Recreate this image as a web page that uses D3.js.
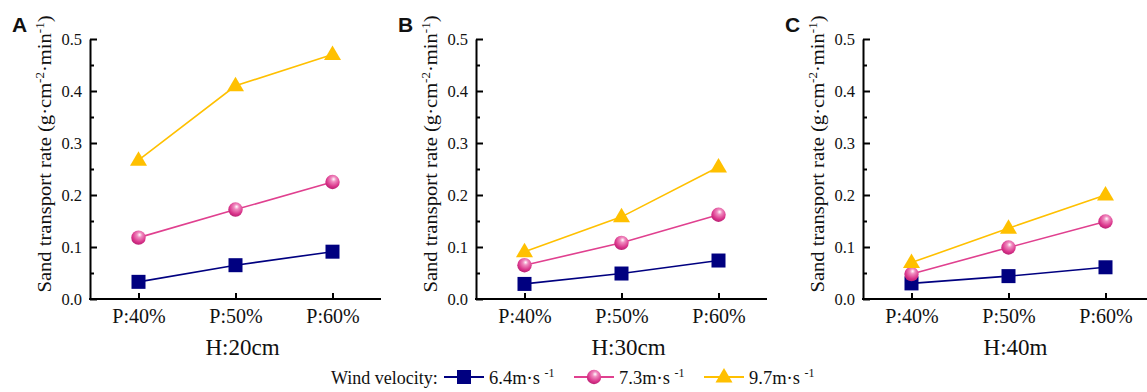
<!DOCTYPE html>
<html>
<head>
<meta charset="utf-8">
<script src="https://cdn.jsdelivr.net/npm/d3@7"></script>
<style>
  body { margin: 0; background: #fff; }
  svg { display: block; }
  text { font-family: "Liberation Serif", "Times New Roman", serif; fill: #111; }
</style>
</head>
<body>
<svg id="chart" width="1147" height="392"></svg>
<script>
// categories and panel labels
const categories = ["P:40%", "P:50%", "P:60%"];
const panelLetters = ["A", "B", "C"];
const panelTitles = ["H:20cm", "H:30cm", "H:40m"];
const yTicks = [0, 0.1, 0.2, 0.3, 0.4, 0.5];
const yMinorTicks = [0.05, 0.15, 0.25, 0.35, 0.45];

// series values per panel (A, B, C)
const wind64 = [[0.033, 0.065, 0.091], [0.029, 0.049, 0.074], [0.030, 0.044, 0.061]];
const wind73 = [[0.118, 0.172, 0.225], [0.065, 0.108, 0.162], [0.048, 0.099, 0.149]];
const wind97 = [[0.267, 0.410, 0.470], [0.091, 0.158, 0.254], [0.070, 0.136, 0.200]];

const seriesNames = ["6.4m·s", "7.3m·s", "9.7m·s"];

const conf = {
	panelX: [90, 476, 863],
	top: 39,
	width: 291,
	height: 260,
	colors: ["#000080", "#e0408f", "#ffc000"],
	shapes: ["square", "circle", "triangle"]
};

const serif = "'Liberation Serif', 'Times New Roman', serif";
const svg = d3.select("#chart");

const defs = svg.append("defs");
const grad = defs.append("radialGradient")
	.attr("id", "ballGrad")
	.attr("cx", "0.55").attr("cy", "0.35").attr("r", "0.7")
	.attr("fx", "0.58").attr("fy", "0.3");
grad.append("stop").attr("offset", "0").attr("stop-color", "#ffffff");
grad.append("stop").attr("offset", "0.25").attr("stop-color", "#f08cc0");
grad.append("stop").attr("offset", "0.7").attr("stop-color", "#d9338a");
grad.append("stop").attr("offset", "1").attr("stop-color", "#b01c6c");

const y = d3.scaleLinear().domain([0, 0.5]).range([conf.height, 0]);
const x = d3.scalePoint().domain(categories).range([0, conf.width]).padding(0.5);

function drawMarker(g, shape, color, cx, cy) {
	if (shape === "square") {
		g.append("rect")
			.attr("x", cx - 7).attr("y", cy - 7)
			.attr("width", 14).attr("height", 14)
			.attr("fill", color);
	} else if (shape === "circle") {
		g.append("circle")
			.attr("cx", cx).attr("cy", cy).attr("r", 7.2)
			.attr("fill", "url(#ballGrad)");
	} else {
		g.append("path")
			.attr("d", `M${cx},${cy - 9}L${cx + 8.5},${cy + 5.5}L${cx - 8.5},${cy + 5.5}Z`)
			.attr("fill", color);
	}
}

const allSeries = [wind64, wind73, wind97];

conf.panelX.forEach((px, p) => {
	const g = svg.append("g").attr("transform", `translate(${px},${conf.top})`);

	// minor y ticks
	g.append("g")
		.call(d3.axisLeft(y).tickValues(yMinorTicks).tickSize(-4).tickFormat(""))
		.call(s => s.select(".domain").remove())
		.selectAll("line").attr("stroke", "#000").attr("stroke-width", 2);

	// major y axis
	const ya = g.append("g")
		.call(d3.axisLeft(y).tickValues(yTicks).tickSize(-7).tickSizeOuter(0).tickPadding(8)
			.tickFormat(d3.format(".1f")))
		.attr("font-family", serif);
	ya.select(".domain").attr("stroke", "#000").attr("stroke-width", 2);
	ya.selectAll("line").attr("stroke", "#000").attr("stroke-width", 2);
	ya.selectAll("text")
		.style("font-family", serif).style("font-size", "16.5px").attr("fill", "#111");

	// x axis
	const xa = g.append("g").attr("transform", `translate(0,${conf.height})`)
		.call(d3.axisBottom(x).tickSize(-6).tickSizeOuter(0).tickPadding(10))
		.attr("font-family", serif);
	xa.select(".domain").attr("stroke", "#000").attr("stroke-width", 2)
		.attr("d", `M-1,0H${conf.width}`);
	xa.selectAll("line").attr("stroke", "#000").attr("stroke-width", 2);
	xa.selectAll("text")
		.style("font-family", serif).style("font-size", "20px").attr("fill", "#111");

	// x title
	g.append("text")
		.attr("x", conf.width / 2 + 7)
		.attr("y", 316)
		.attr("text-anchor", "middle")
		.style("font-size", "23px")
		.text(panelTitles[p]);

	// y title
	const yt = g.append("text")
		.attr("transform", `translate(-39,${conf.height / 2 - 15}) rotate(-90)`)
		.attr("text-anchor", "middle")
		.attr("textLength", 277)
		.attr("lengthAdjust", "spacingAndGlyphs")
		.style("font-size", "19px");
	yt.append("tspan").text("Sand transport rate (g·cm");
	yt.append("tspan").attr("dy", -7).style("font-size", "12px").text("-2");
	yt.append("tspan").attr("dy", 7).text("·min");
	yt.append("tspan").attr("dy", -7).style("font-size", "12px").text("-1");
	yt.append("tspan").attr("dy", 7).text(")");

	// panel letter
	svg.append("text")
		.attr("x", px - 78)
		.attr("y", 32)
		.style("font-family", "Liberation Sans, Arial, sans-serif")
		.style("font-weight", "bold")
		.style("font-size", "21px")
		.attr("fill", "#000")
		.text(panelLetters[p]);

	// series
	allSeries.forEach((series, si) => {
		const vals = series[p];
		const line = d3.line()
			.x((d, i) => x(categories[i]))
			.y(d => y(d));
		g.append("path")
			.datum(vals)
			.attr("d", line)
			.attr("fill", "none")
			.attr("stroke", conf.colors[si])
			.attr("stroke-width", 1.6);
		vals.forEach((v, i) => drawMarker(g, conf.shapes[si], conf.colors[si], x(categories[i]), y(v)));
	});
});

// legend
const legend = svg.append("g");
legend.append("text")
	.attr("x", 331).attr("y", 384)
	.style("font-size", "18px")
	.text("Wind velocity:");
const legendX = [444, 574, 704];
seriesNames.forEach((name, i) => {
	const lx = legendX[i];
	legend.append("line")
		.attr("x1", lx).attr("x2", lx + 40)
		.attr("y1", 377).attr("y2", 377)
		.attr("stroke", conf.colors[i]).attr("stroke-width", 1.8);
	drawMarker(legend, conf.shapes[i], conf.colors[i], lx + 20, 377);
	const t = legend.append("text")
		.attr("x", lx + 45).attr("y", 384)
		.style("font-size", "18.5px");
	t.append("tspan").text(name + " ");
	t.append("tspan").attr("dy", -7).style("font-size", "12px").text("-1");
});
</script>
</body>
</html>
